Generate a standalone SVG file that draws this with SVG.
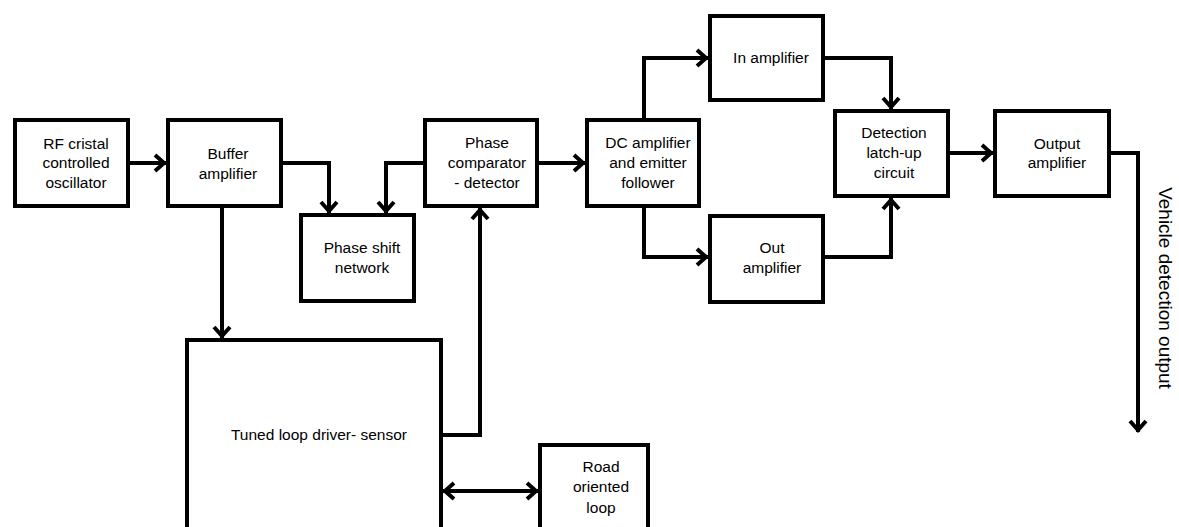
<svg xmlns="http://www.w3.org/2000/svg" width="1179" height="527" viewBox="0 0 1179 527">
<style>
.box{fill:#fff;stroke:#000;stroke-width:4}
.lbl{font-family:"Liberation Sans",Arial,sans-serif;font-size:15.5px;fill:#000;text-anchor:middle}
.vt{font-family:"Liberation Sans",Arial,sans-serif;font-size:19px;fill:#000;text-anchor:middle}
.c{fill:none;stroke:#000;stroke-width:4;stroke-linejoin:miter}
</style>
<defs>
<marker id="ah" markerUnits="userSpaceOnUse" viewBox="-14 -12 18 24" refX="2" refY="0" markerWidth="18" markerHeight="24" orient="auto-start-reverse" overflow="visible">
<path d="M-9,-8 L0,0 L-9,8" fill="none" stroke="#000" stroke-width="4" stroke-linejoin="miter"/>
</marker>
</defs>
<rect width="1179" height="527" fill="#fff"/>
<g id="connectors">
<path class="c" d="M130,163 H166" marker-end="url(#ah)"/>
<path class="c" d="M283,163 H329 V213" marker-end="url(#ah)"/>
<path class="c" d="M423,163 H386 V213" marker-end="url(#ah)"/>
<path class="c" d="M539,163 H585" marker-end="url(#ah)"/>
<path class="c" d="M222,208 V338" marker-end="url(#ah)"/>
<path class="c" d="M443,435 H480 V208" marker-end="url(#ah)"/>
<path class="c" d="M443,491 H538" marker-start="url(#ah)" marker-end="url(#ah)"/>
<path class="c" d="M644,118 V58 H708" marker-end="url(#ah)"/>
<path class="c" d="M644,208 V257 H708" marker-end="url(#ah)"/>
<path class="c" d="M825,58 H891 V109" marker-end="url(#ah)"/>
<path class="c" d="M825,257 H891 V198" marker-end="url(#ah)"/>
<path class="c" d="M950,153 H993" marker-end="url(#ah)"/>
<path class="c" d="M1111,153 H1138 V432" marker-end="url(#ah)"/>
</g>
<g id="rf">
<rect class="box" x="15" y="120" width="113" height="86"/>
<text class="lbl" x="76" y="149">RF cristal</text>
<text class="lbl" x="76" y="168">controlled</text>
<text class="lbl" x="76" y="188">oscillator</text>
</g>
<g id="buffer">
<rect class="box" x="168" y="120" width="113" height="86"/>
<text class="lbl" x="228" y="159">Buffer</text>
<text class="lbl" x="228" y="179">amplifier</text>
</g>
<g id="phaseshift">
<rect class="box" x="301" y="215" width="113" height="86"/>
<text class="lbl" x="362" y="253">Phase shift</text>
<text class="lbl" x="362" y="273">network</text>
</g>
<g id="phasecomp">
<rect class="box" x="425" y="120" width="112" height="86"/>
<text class="lbl" x="487" y="148">Phase</text>
<text class="lbl" x="487" y="168">comparator</text>
<text class="lbl" x="487" y="188">- detector</text>
</g>
<g id="dc">
<rect class="box" x="587" y="120" width="112" height="86"/>
<text class="lbl" x="648" y="148">DC amplifier</text>
<text class="lbl" x="648" y="168">and emitter</text>
<text class="lbl" x="648" y="188">follower</text>
</g>
<g id="inamp">
<rect class="box" x="710" y="16" width="113" height="84"/>
<text class="lbl" x="771" y="63">In amplifier</text>
</g>
<g id="outamp">
<rect class="box" x="710" y="216" width="113" height="86"/>
<text class="lbl" x="772" y="253">Out</text>
<text class="lbl" x="772" y="273">amplifier</text>
</g>
<g id="detection">
<rect class="box" x="835" y="111" width="113" height="85"/>
<text class="lbl" x="894" y="138">Detection</text>
<text class="lbl" x="894" y="158">latch-up</text>
<text class="lbl" x="894" y="178">circuit</text>
</g>
<g id="output">
<rect class="box" x="995" y="111" width="114" height="85"/>
<text class="lbl" x="1057" y="149">Output</text>
<text class="lbl" x="1057" y="168">amplifier</text>
</g>
<g id="tuned">
<rect class="box" x="187" y="340" width="254" height="220"/>
<text class="lbl" x="319" y="440">Tuned loop  driver- sensor</text>
</g>
<g id="road">
<rect class="box" x="540" y="445" width="108" height="120"/>
<text class="lbl" x="601" y="472">Road</text>
<text class="lbl" x="601" y="492">oriented</text>
<text class="lbl" x="601" y="513">loop</text>
</g>
<g id="vehicle-output-label">
<text class="vt" transform="translate(1159,288) rotate(90)" xml:space="preserve">Vehicle detection output</text>
</g>
</svg>
